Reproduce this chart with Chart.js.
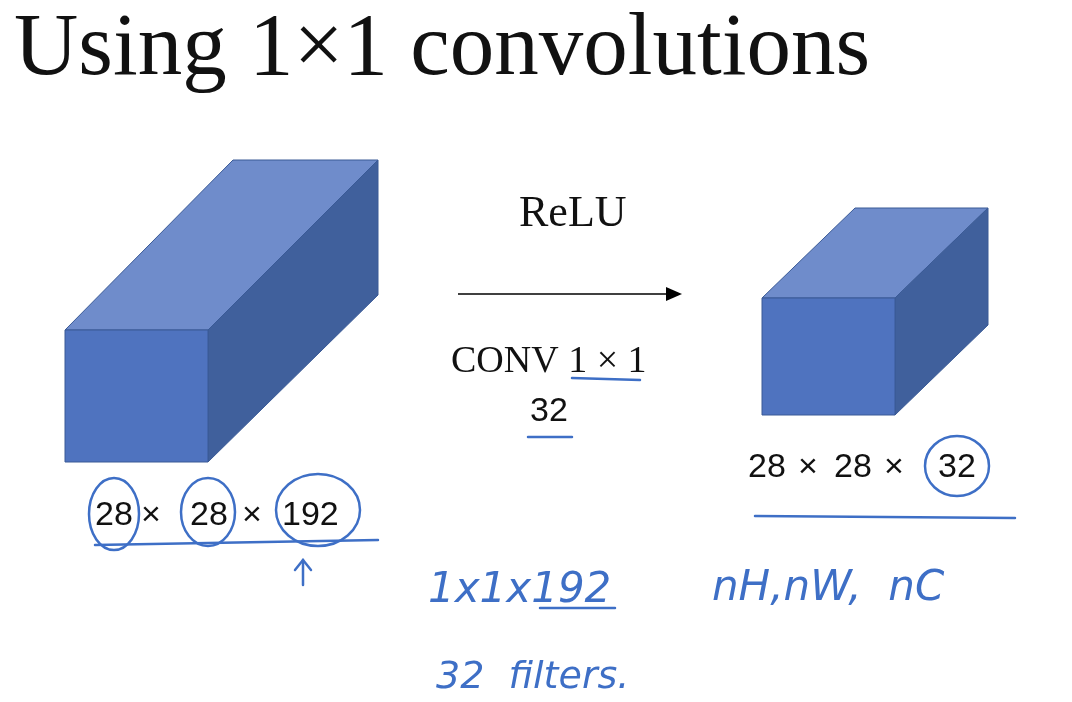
<!DOCTYPE html>
<html><head><meta charset="utf-8">
<script src="https://cdn.jsdelivr.net/npm/chart.js@4"></script>
<style>html,body{margin:0;background:#fff}#wrap{width:1072px;height:702px}</style>
</head><body><div id="wrap"><canvas id="c"></canvas></div>
<script>
// slide geometry in slide units (x right, y down)
const bigFront = [[65,330],[208,330],[208,462],[65,462]];
const bigTop = [[65,330],[233,160],[378,160],[208,330]];
const bigSide = [[208,330],[378,160],[378,295],[208,462]];
const smallFront = [[762,298],[895,298],[895,415],[762,415]];
const smallTop = [[762,298],[855,208],[988,208],[895,298]];
const smallSide = [[895,298],[988,208],[988,325],[895,415]];
const faceColors = ['#4f73bf', '#6f8ccb', '#40609c'];

const serif = '"Liberation Serif", serif';
const sans = '"Liberation Sans", sans-serif';
const hand = 'italic 300 42px "DejaVu Sans", sans-serif';
const labels = [
    { t: 'Using 1×1 convolutions', x: 14, y: 74, font: '89px ' + serif, c: '#111' },
    { t: 'ReLU', x: 519, y: 226, font: '44px ' + serif, c: '#111' },
    { t: 'CONV 1 × 1', x: 451, y: 372, font: '38px ' + serif, c: '#111' },
    { t: '32', x: 530, y: 421, font: '34px ' + sans, c: '#111' },
    { t: '28', x: 95, y: 525, font: '34px ' + sans, c: '#111' },
    { t: '×', x: 141, y: 525, font: '34px ' + sans, c: '#111' },
    { t: '28', x: 190, y: 525, font: '34px ' + sans, c: '#111' },
    { t: '×', x: 242, y: 525, font: '34px ' + sans, c: '#111' },
    { t: '192', x: 282, y: 525, font: '34px ' + sans, c: '#111' },
    { t: '28', x: 748, y: 477, font: '34px ' + sans, c: '#111' },
    { t: '×', x: 798, y: 477, font: '34px ' + sans, c: '#111' },
    { t: '28', x: 834, y: 477, font: '34px ' + sans, c: '#111' },
    { t: '×', x: 884, y: 477, font: '34px ' + sans, c: '#111' },
    { t: '32', x: 938, y: 477, font: '34px ' + sans, c: '#111' },
    { t: '1x1x192', x: 428, y: 602, font: hand, c: '#3e6fc6' },
    { t: '32  filters.', x: 436, y: 688, font: 'italic 300 38px "DejaVu Sans", sans-serif', c: '#3e6fc6' },
    { t: 'nH,nW,  nC', x: 712, y: 600, font: hand, c: '#3e6fc6' }
];
// ink: circles [cx,cy,rx,ry], strokes as point lists
const circles = [[114,514,25,36],[208,512,27,34],[318,510,42,36],[957,466,32,30]];
const strokes = [
    [[95,545],[378,540]], [[572,378],[640,380]], [[528,437],[572,437]],
    [[755,516],[1015,518]], [[303,585],[303,560]], [[295,570],[303,560],[311,570]],
    [[540,608],[615,608]]
];

const shapes = [bigTop, bigSide, bigFront, smallTop, smallSide, smallFront];

const slidePlugin = {
    id: 'slide',
    afterDraw(chart) {
        const { ctx, scales: { x, y } } = chart;
        const px = p => [x.getPixelForValue(p[0]), y.getPixelForValue(p[1])];
        shapes.forEach((s, i) => {
            ctx.beginPath();
            s.forEach((p, j) => { const [a, b] = px(p); j ? ctx.lineTo(a, b) : ctx.moveTo(a, b); });
            ctx.closePath();
            ctx.fillStyle = faceColors[[1, 2, 0][i % 3]];
            ctx.fill();
            ctx.strokeStyle = '#3a5a96'; ctx.lineWidth = 1; ctx.stroke();
        });
        // arrow
        const [a1, b1] = px([458, 294]), [a2, b2] = px([682, 294]);
        ctx.strokeStyle = '#000'; ctx.lineWidth = 1.5;
        ctx.beginPath(); ctx.moveTo(a1, b1); ctx.lineTo(a2 - 12, b2); ctx.stroke();
        ctx.fillStyle = '#000';
        ctx.beginPath(); ctx.moveTo(a2, b2); ctx.lineTo(a2 - 16, b2 - 7); ctx.lineTo(a2 - 16, b2 + 7); ctx.closePath(); ctx.fill();
        labels.forEach(l => {
            const [a, b] = px([l.x, l.y]);
            ctx.font = l.font; ctx.fillStyle = l.c; ctx.textBaseline = 'alphabetic';
            ctx.fillText(l.t, a, b);
        });
        ctx.strokeStyle = '#3e6fc6'; ctx.lineWidth = 2.5; ctx.lineCap = 'round';
        circles.forEach(c => {
            const [a, b] = px([c[0], c[1]]);
            ctx.beginPath(); ctx.ellipse(a, b, c[2], c[3], 0, 0, Math.PI * 2); ctx.stroke();
        });
        strokes.forEach(s => {
            ctx.beginPath();
            s.forEach((p, j) => { const [a, b] = px(p); j ? ctx.lineTo(a, b) : ctx.moveTo(a, b); });
            ctx.stroke();
        });
    }
};

new Chart(document.getElementById('c'), {
    type: 'scatter',
    data: { datasets: [{ data: [] }] },
    options: {
        responsive: true, maintainAspectRatio: false, animation: false,
        layout: { padding: 0 },
        plugins: { legend: { display: false }, tooltip: { enabled: false } },
        scales: {
            x: { min: 0, max: 1072, display: false },
            y: { min: 0, max: 702, reverse: true, display: false }
        }
    },
    plugins: [slidePlugin]
});
</script></body></html>
